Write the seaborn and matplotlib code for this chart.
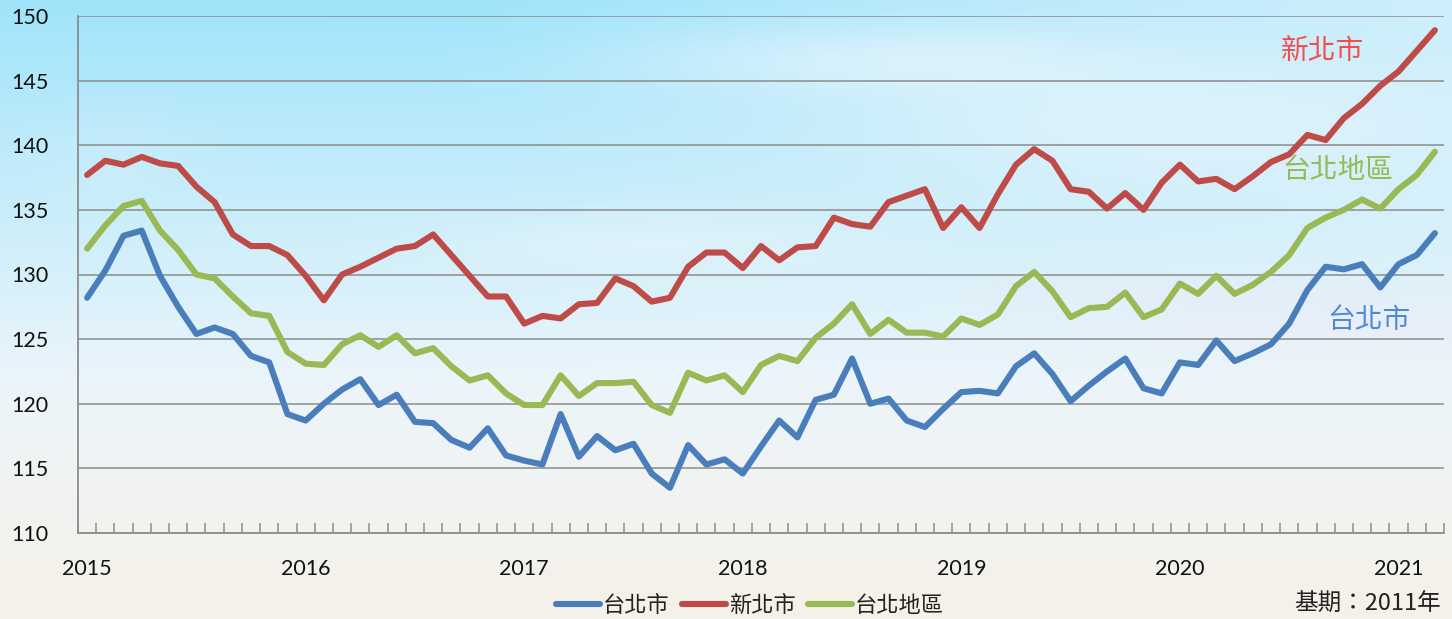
import numpy as np
import pandas as pd
import matplotlib
matplotlib.use("Agg")
import matplotlib.pyplot as plt
import seaborn as sns

# Monthly housing price index, Jan 2015 - Mar 2021 (base period 2011 = 100)
taipei_city = [128.2, 130.3, 133.0, 133.4, 129.9, 127.5, 125.4, 125.9, 125.4, 123.7, 123.2, 119.2, 118.7,
               120.0, 121.1, 121.9, 119.9, 120.7, 118.6, 118.5, 117.2, 116.6, 118.1, 116.0, 115.6, 115.3,
               119.2, 115.9, 117.5, 116.4, 116.9, 114.6, 113.5, 116.8, 115.3, 115.7, 114.6, 116.7, 118.7,
               117.4, 120.3, 120.7, 123.5, 120.0, 120.4, 118.7, 118.2, 119.6, 120.9, 121.0, 120.8, 122.9, 123.9,
               122.3, 120.2, 121.4, 122.5, 123.5, 121.2, 120.8, 123.2, 123.0, 124.9, 123.3, 123.9, 124.6,
               126.2, 128.8, 130.6, 130.4, 130.8, 129.0, 130.8, 131.5, 133.2]
new_taipei = [137.7, 138.8, 138.5, 139.1, 138.6, 138.4, 136.8, 135.6, 133.1, 132.2, 132.2, 131.5, 129.9,
              128.0, 130.0, 130.6, 131.3, 132.0, 132.2, 133.1, 131.5, 129.9, 128.3, 128.3, 126.2, 126.8,
              126.6, 127.7, 127.8, 129.7, 129.1, 127.9, 128.2, 130.6, 131.7, 131.7, 130.5, 132.2, 131.1,
              132.1, 132.2, 134.4, 133.9, 133.7, 135.6, 136.1, 136.6, 133.6, 135.2, 133.6, 136.2, 138.5, 139.7,
              138.8, 136.6, 136.4, 135.1, 136.3, 135.0, 137.1, 138.5, 137.2, 137.4, 136.6, 137.6, 138.7,
              139.3, 140.8, 140.4, 142.1, 143.2, 144.6, 145.7, 147.3, 148.9]
taipei_area = [132.0, 133.8, 135.3, 135.7, 133.4, 131.9, 130.0, 129.7, 128.3, 127.0, 126.8, 124.0, 123.1,
               123.0, 124.6, 125.3, 124.4, 125.3, 123.9, 124.3, 122.9, 121.8, 122.2, 120.8, 119.9, 119.9,
               122.2, 120.6, 121.6, 121.6, 121.7, 119.9, 119.3, 122.4, 121.8, 122.2, 120.9, 123.0, 123.7,
               123.3, 125.1, 126.2, 127.7, 125.4, 126.5, 125.5, 125.5, 125.2, 126.6, 126.1, 126.9, 129.1, 130.2,
               128.7, 126.7, 127.4, 127.5, 128.6, 126.7, 127.3, 129.3, 128.5, 129.9, 128.5, 129.2, 130.2,
               131.5, 133.6, 134.4, 135.0, 135.8, 135.1, 136.6, 137.7, 139.5]
series_names = ["台北市", "新北市", "台北地區"]
year_labels = ["2015", "2016", "2017", "2018", "2019", "2020", "2021"]
y_ticks = [110, 115, 120, 125, 130, 135, 140, 145, 150]
base_note = "基期：2011年"

colors = {"台北市": "#4a7ebb", "新北市": "#be4b48", "台北地區": "#98b954"}
label_colors = {"台北市": "#4f8ad6", "新北市": "#f24e4e", "台北地區": "#98b954"}

n = len(taipei_city)
df = pd.DataFrame({
    "month": np.tile(np.arange(n), 3),
    "index": taipei_city + new_taipei + taipei_area,
    "region": np.repeat(series_names, n),
})

W, H = 1452, 619
fig = plt.figure(figsize=(W / 100, H / 100), dpi=100)

# Sky backdrop: blue at the top fading to a warm white near the bottom
yy, xx = np.mgrid[0:H, 0:W]
fy = yy / (H - 1)
fx = xx / (W - 1)
sky = np.array([160, 228, 251]) / 255
mid = np.array([236, 245, 250]) / 255
low = np.array([246, 241, 232]) / 255
t1 = np.clip(fy / 0.62, 0, 1)[..., None]
t2 = np.clip((fy - 0.62) / 0.38, 0, 1)[..., None]
base = np.where(fy[..., None] < 0.62, sky * (1 - t1) + mid * t1, mid * (1 - t2) + low * t2)
# the right-hand side of the sky is hazier and lighter
haze = (np.clip((fx - 0.35) / 0.65, 0, 1) * np.clip(1 - fy / 0.7, 0, 1) * 0.55)[..., None]
base = base * (1 - haze) + np.array([0.96, 0.97, 0.985]) * haze
# soft clouds
def blob(cx, cy, sx, sy, a, col):
    g = np.exp(-(((xx - cx) / sx) ** 2 + ((yy - cy) / sy) ** 2))[..., None] * a
    return g, np.array(col)
for cx, cy, sx, sy, a, col in [
    (900, 60, 260, 35, 0.45, (0.98, 0.98, 0.99)),
    (1150, 120, 300, 60, 0.4, (0.98, 0.98, 0.99)),
    (1330, 330, 220, 25, 0.35, (0.96, 0.90, 0.95)),
    (1200, 290, 260, 18, 0.25, (0.95, 0.90, 0.96)),
    (650, 240, 200, 30, 0.3, (0.98, 0.98, 0.99)),
    (120, 150, 80, 40, 0.2, (0.9, 0.95, 0.98)),
]:
    g, c = blob(cx, cy, sx, sy, a, col)
    base = base * (1 - g) + c * g
bg = fig.add_axes([0, 0, 1, 1], zorder=0)
bg.imshow(np.clip(base, 0, 1), aspect="auto", extent=(0, 1, 0, 1), origin="upper")
bg.set_axis_off()

ax = fig.add_axes([78 / W, 1 - 533 / H, 1366 / W, 517 / H], zorder=1)
ax.set_facecolor("none")

sns.lineplot(data=df, x="month", y="index", hue="region", hue_order=series_names,
             palette=colors, linewidth=4.4, ax=ax, legend=False,
             solid_joinstyle="round", solid_capstyle="round", zorder=3)

grid_col = "#8c8c8c"
ax.set_xlim(-0.5, n - 0.5)
ax.set_ylim(y_ticks[0], y_ticks[-1])
ax.set_yticks(y_ticks)
ax.set_yticklabels([str(v) for v in y_ticks])
ax.set_xticks(np.arange(0, n, 12))
ax.set_xticklabels(year_labels)
ax.set_xticks(np.arange(-0.5, n, 1), minor=True)
ax.tick_params(axis="x", which="major", length=0, pad=19, labelsize=15.5, labelcolor="#111111")
ax.tick_params(axis="x", which="minor", direction="in", length=7, width=1.1, color=grid_col)
ax.tick_params(axis="y", length=0, pad=21, labelsize=15.5, labelcolor="#111111")
for lab in ax.get_xticklabels() + ax.get_yticklabels():
    lab.set_family(["Lato", "DejaVu Sans"])
ax.set_xlabel("")
ax.set_ylabel("")
ax.grid(axis="y", color=grid_col, linewidth=1.1, zorder=1)
ax.grid(axis="x", visible=False)
ax.set_axisbelow(True)
for side in ["top", "right"]:
    ax.spines[side].set_visible(False)
for side in ["left", "bottom"]:
    ax.spines[side].set_color(grid_col)
    ax.spines[side].set_linewidth(1.3)

cjk = ["Noto Sans CJK TC", "DejaVu Sans"]

# series names written next to the lines
ax.text(1322 / W, 1 - 51 / H, "新北市", transform=fig.transFigure, ha="center", va="center",
        fontsize=20, color=label_colors["新北市"], family=cjk, zorder=4)
ax.text(1338 / W, 1 - 170 / H, "台北地區", transform=fig.transFigure, ha="center", va="center",
        fontsize=20, color=label_colors["台北地區"], family=cjk, zorder=4)
ax.text(1369 / W, 1 - 320 / H, "台北市", transform=fig.transFigure, ha="center", va="center",
        fontsize=20, color=label_colors["台北市"], family=cjk, zorder=4)

handles = [plt.Line2D([], [], color=colors[s], linewidth=4.4, solid_capstyle="round") for s in series_names]
leg = fig.legend(handles, series_names, loc="center", bbox_to_anchor=(750 / W, 1 - 605 / H),
                 ncol=3, frameon=False, handlelength=2.0, handletextpad=0.12, columnspacing=0.55,
                 prop={"family": cjk, "size": 16})
for txt in leg.get_texts():
    txt.set_color("#222222")

fig.text(1441 / W, 1 - 604 / H, base_note, ha="right", va="center", fontsize=17,
         color="#222222", family=cjk)

fig.savefig("out.png", dpi=100)
